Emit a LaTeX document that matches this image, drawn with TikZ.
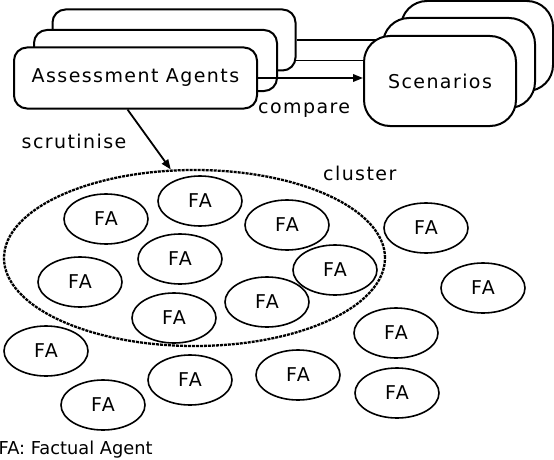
\documentclass[tikz,border=0pt]{standalone}
\usepackage{fontspec}
\setmainfont{DejaVu Sans}
\newfontfamily\spfont[LetterSpace=7.5]{DejaVu Sans}
\usetikzlibrary{arrows.meta,shapes.geometric,backgrounds}
\begin{document}
\begin{tikzpicture}[x=1pt,y=-1pt,
  box/.style={draw,line width=2pt,rounded corners=13pt,minimum width=243pt,minimum height=61pt,fill=white,inner sep=0pt},
  scbox/.style={draw,line width=2pt,rounded corners=26pt,minimum width=152pt,minimum height=90pt,fill=white,inner sep=0pt},
  fa/.style={draw,ellipse,line width=1.6pt,minimum width=84pt,minimum height=50pt,inner sep=0pt},
  clus/.style={draw,ellipse,line width=2.3pt,dash pattern=on 3pt off 1pt,minimum width=381pt,minimum height=176pt,inner sep=0pt},
  lbl/.style={font=\spfont\fontsize{19}{22}\selectfont,inner sep=0pt},
  conn/.style={line width=1.8pt},
  tip/.style={-{Triangle[length=10pt,width=7.5pt]}}
]
\useasboundingbox (0,0) rectangle (554,460);

% Scenarios stack
\node[scbox] (sc3) at (477,46) {};
\node[scbox] (sc2) at (459,63) {};
\node[scbox,lbl] (sc1) at (440,81) {Scenarios};

% Assessment agents stack
\node[box] (aa3) at (174,40) {};
\node[box] (aa2) at (155.5,60.5) {};
\node[box,lbl] (aa1) at (135.5,78) {Assessment Agents};

\begin{scope}[on background layer]
\draw[conn] (aa3.east) -- (aa3.east -| sc1.center);
\draw[conn] (aa2.east) -- (aa2.east -| sc1.center);
\end{scope}
\draw[conn,tip] (aa1.east) -- (aa1.east -| sc1.west);

\node[lbl,anchor=base west] (cmp) at (258,113) {compare};
\node[lbl,anchor=base west] (scr) at (21.5,148) {scrutinise};
\node[lbl,anchor=base west] (clt) at (323,180) {cluster};

% cluster
\node[clus] (cluster) at (194.5,258) {};
\draw[conn,tip] ([xshift=-8pt]aa1.south) -- (cluster.105);

% factual agents
\foreach \n/\x/\y in {f1/106/219, f2/200/201, f3/287/225, f4/180/259, f5/80/282,
  f6/335/270, f7/267/302, f8/174/318, f9/426/228, f10/483/288, f11/396/333,
  f12/46/351, f13/190/380, f14/298/375, f15/397/393, f16/103/405}
  \node[fa,lbl] (\n) at (\x,\y) {FA};

\node[anchor=base west,inner sep=0pt,font=\fontsize{17.8}{20}\selectfont] (legend) at (-1.5,454) {FA: Factual Agent};
\end{tikzpicture}
\end{document}
